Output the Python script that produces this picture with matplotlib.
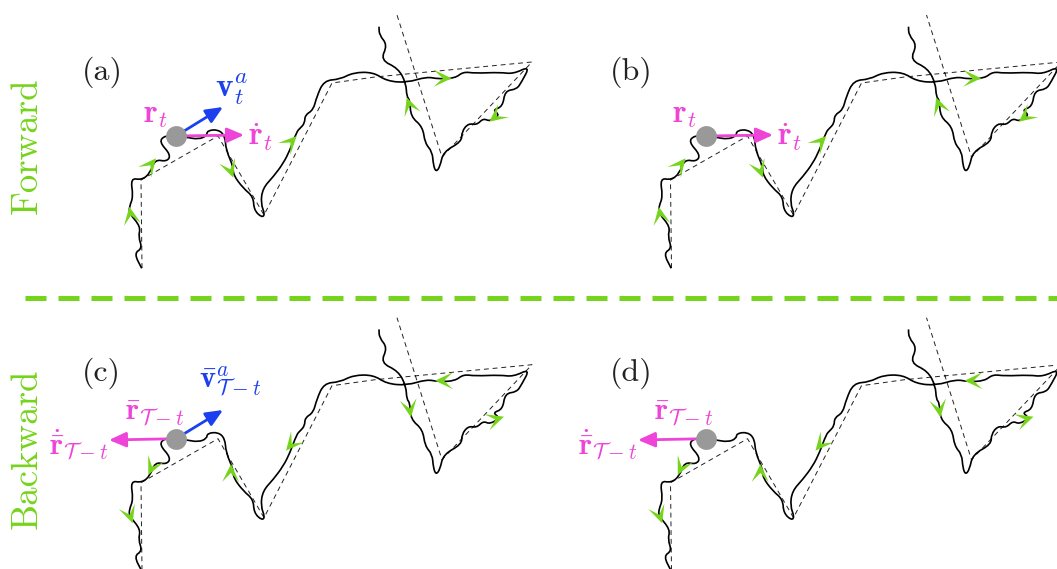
import numpy as np
from matplotlib import pyplot as plt
from matplotlib.path import Path
from matplotlib.patches import PathPatch

plt.rcParams['mathtext.fontset'] = 'cm'

GREEN = '#76d41c'
PINK = '#ee44d8'
BLUE = '#1c40ee'

path_x = [141.7, 134, 142.3, 138.3, 140.7, 129.3, 129.3, 133.3, 130.5, 141.7, 150, 155,
          166.7, 171, 159, 165, 176, 186.7, 198.3, 206.7, 207.3, 218.3, 225, 226, 233.3, 233.3,
          243.3, 253.3, 254, 261.7, 265, 260.7, 262.7, 273.3, 283.3, 290, 296.7, 300, 304.7,
          305, 313.3, 316.7, 324, 340, 353.3, 373.3, 386.7, 406.7, 426.7, 438.3,
          455, 463.3, 475, 500, 513.3, 530, 521.7, 516.7, 505, 502.7, 492.5, 500,
          490, 483.3, 476.7, 468.3, 461.7, 461.7, 443.3, 440, 436, 433.3, 432.3, 425,
          422.7, 410.7, 410, 406.7, 406, 398.3, 380.5, 387.5, 379.3, 379]
path_y = [268.3, 253.3, 248.3, 236.7, 226.7, 213.3, 206.7, 196.7, 178, 180, 173.3, 159.3,
          161.7, 155, 141.7, 135.5, 136, 137.3, 139.3, 136, 130.5, 129.5, 136, 150, 166.7, 175,
          188.3, 196.7, 210, 217.5, 214.5, 203.3, 188.3, 176.7, 163.3, 150, 131.7, 128.3, 123.3,
          115, 110, 96.7, 80.5, 79.3, 72.5, 72.2, 81, 82.7, 76.7, 79,
          78.3, 71.7, 73.3, 72.3, 74, 66, 81.7, 89.3, 90.7, 106.7, 110, 115,
          121.5, 118.3, 125, 123.3, 131.7, 141.7, 151.7, 166.7, 172, 165, 151.7, 143.3,
          126.7, 116.7, 100, 96.7, 83.3, 68.3, 60, 45, 35, 26.7]
ref_x = [142, 141, 218, 264, 332, 375, 532, 442, 397]
ref_y = [268, 180, 136, 215, 83, 77, 62, 157, 15]

panel_labels = ['(a)', '(b)', '(c)', '(d)']
shift_x = [0, 529.5, 0, 529.5]
shift_y = [0, 0, 302.7, 302.7]
label_x = [82, 610, 82, 610]
label_y = [72, 72, 373, 373]

# arrow heads on the sample path: tip x, tip y, angle in degrees (image coords)
fwd_x = [129.3, 156, 233.3, 296.7, 406.7, 451.7, 489.3]
fwd_y = [206.7, 158.3, 177.7, 136, 97.3, 78.3, 121.7]
fwd_a = [-100, -51, 70, -46, -109, 0, 142]
bwd_x = [132.7, 148.3, 231, 286, 411, 435, 504]
bwd_y = [220.6, 172.3, 161.3, 148, 114.6, 78, 114]
bwd_a = [71, 115, -89, 130, 81, 180, -18]


def head(ax, x, y, angle, color=GREEN):
    # stealth shaped arrow head, tip at x, y
    t = np.radians(angle)
    c, s = np.cos(t), np.sin(t)
    local = np.array([[0, 0], [-18, -8.5], [-9, 0], [-18, 8.5]])
    px = x + local[:, 0] * c - local[:, 1] * s
    py = y + local[:, 0] * s + local[:, 1] * c
    ax.fill(px, py, color=color, lw=0, zorder=4)


def smooth_line(ax, x, y, **kw):
    # quadratic pieces between midpoints so the sampled path has no sharp corners
    pts = np.column_stack([x, y])
    mids = (pts[:-1] + pts[1:]) / 2
    verts = [pts[0], mids[0]]
    codes = [Path.MOVETO, Path.LINETO]
    for k in range(1, len(pts) - 1):
        verts += [pts[k], mids[k]]
        codes += [Path.CURVE3, Path.CURVE3]
    verts.append(pts[-1])
    codes.append(Path.LINETO)
    ax.add_patch(PathPatch(Path(verts, codes), fc='none', **kw))


fig = plt.figure(figsize=(10.57, 5.69), dpi=100)
ax = fig.add_axes([0, 0, 1, 1])
ax.set_xlim(0, 1057)
ax.set_ylim(569, 0)
ax.axis('off')

for i in range(4):
    dx, dy = shift_x[i], shift_y[i]
    ax.plot(np.array(ref_x) + dx, np.array(ref_y) + dy, color='#222222', lw=0.7,
            dashes=(5, 4), zorder=2)
    smooth_line(ax, np.array(path_x) + dx, np.array(path_y) + dy, ec='black', lw=1.2, zorder=3)
    hx, hy, ha = (fwd_x, fwd_y, fwd_a) if i < 2 else (bwd_x, bwd_y, bwd_a)
    for j in range(len(hx)):
        head(ax, hx[j] + dx, hy[j] + dy, ha[j])
    ax.text(label_x[i], label_y[i], panel_labels[i], family='cmr10', fontsize=23,
            ha='left', va='center', color='#222222')

for dx, dy in zip(shift_x, shift_y):
    ax.plot(176 + dx, 136 + dy, 'o', ms=15, color='#999999', mec='none', zorder=7)


def vec(x0, y0, x1, y1, color):
    ax.annotate('', xy=(x1, y1), xytext=(x0, y0), zorder=6,
                arrowprops=dict(arrowstyle='-|>,head_length=0.68,head_width=0.3', color=color,
                                lw=2, shrinkA=0, shrinkB=0, mutation_scale=15))


vec(176, 136, 244, 135, PINK)
vec(176, 136, 223, 107, BLUE)
vec(705.5, 136, 773, 135, PINK)
vec(176, 438.7, 109, 440, PINK)
vec(176, 438.7, 223, 410, BLUE)
vec(705.5, 438.7, 638, 440, PINK)

ax.text(143, 114, r'$\mathbf{r}_t$', color=PINK, fontsize=23, va='center')
ax.text(248, 137, r'$\dot{\mathbf{r}}_t$', color=PINK, fontsize=23, va='center')
ax.text(215, 89, r'$\mathbf{v}_t^a$', color=BLUE, fontsize=24, va='center')
ax.text(672, 114, r'$\mathbf{r}_t$', color=PINK, fontsize=23, va='center')
ax.text(777, 137, r'$\dot{\mathbf{r}}_t$', color=PINK, fontsize=23, va='center')
ax.text(125, 412, r'$\bar{\mathbf{r}}_{\mathcal{T}-t}$', color=PINK, fontsize=22, va='center')
ax.text(49, 445, r'$\dot{\bar{\mathbf{r}}}_{\mathcal{T}-t}$', color=PINK, fontsize=22, va='center')
ax.text(199, 381, r'$\bar{\mathbf{v}}_{\mathcal{T}-t}^a$', color=BLUE, fontsize=22, va='center')
ax.text(654, 412, r'$\bar{\mathbf{r}}_{\mathcal{T}-t}$', color=PINK, fontsize=22, va='center')
ax.text(578, 445, r'$\dot{\bar{\mathbf{r}}}_{\mathcal{T}-t}$', color=PINK, fontsize=22, va='center')

ax.text(27, 146, 'Forward', family='cmr10', color=GREEN, fontsize=26.5, rotation=90,
        ha='center', va='center')
ax.text(27, 449, 'Backward', family='cmr10', color=GREEN, fontsize=26.5, rotation=90,
        ha='center', va='center')

ax.plot([25, 1057], [298.3, 298.3], color=GREEN, lw=3.6, dashes=(4.2, 2.4), zorder=1)

fig.savefig('out.png', dpi=100)
